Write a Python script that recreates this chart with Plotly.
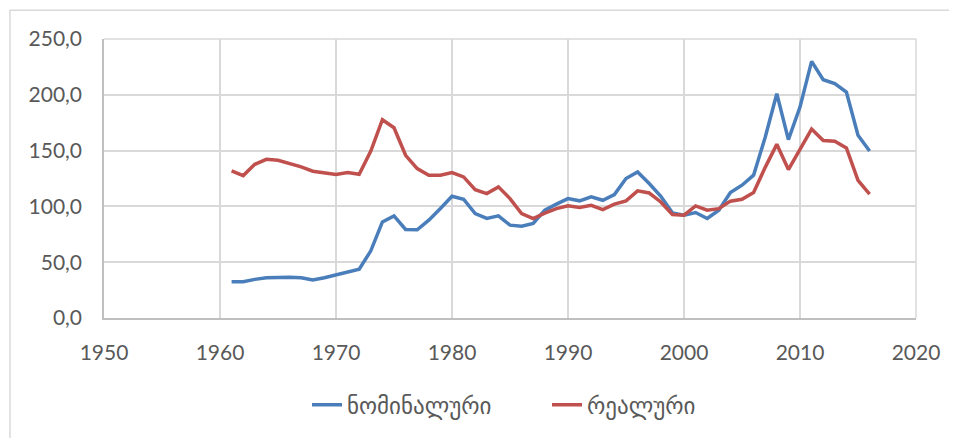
import plotly.graph_objects as go

years = list(range(1961, 2017))
nominal = [32.5, 32.5, 34.6, 36.0, 36.3, 36.6, 36.0, 34.0, 36.0, 38.5,
           40.9, 43.8, 60.2, 86.1, 91.5, 79.3, 79.0, 87.7, 98.1, 109.1,
           106.4, 93.6, 89.2, 91.5, 83.2, 82.3, 84.7, 96.6, 102.0, 107.0,
           105.0, 108.5, 105.5, 110.6, 125.0, 130.9, 120.5, 109.0, 94.2, 92.0,
           94.5, 89.2, 96.6, 112.4, 119.0, 128.0, 162.0, 201.0, 159.8, 189.0,
           230.0, 213.5, 210.0, 202.4, 163.7, 149.7]
real = [131.8, 127.6, 137.7, 142.2, 141.3, 138.4, 135.4, 131.5, 130.0, 128.5,
        130.3, 128.8, 149.6, 177.7, 170.5, 145.8, 133.9, 127.9, 127.9, 130.3,
        126.4, 115.0, 111.5, 117.5, 107.0, 93.6, 89.0, 94.0, 98.0, 100.5,
        99.0, 101.0, 97.2, 102.0, 105.0, 113.9, 112.0, 104.0, 92.8, 92.1,
        100.4, 96.6, 98.0, 104.7, 106.4, 112.4, 135.0, 155.6, 133.0, 151.0,
        169.3, 159.0, 158.3, 152.3, 123.4, 111.0]
series_names = ["ნომინალური", "რეალური"]
colors = ["#4a7ebb", "#c0504d"]

fig = go.Figure()
for name, vals, c in zip(series_names, [nominal, real], colors):
    fig.add_trace(go.Scatter(x=years, y=vals, mode="lines", name=name,
                             line=dict(color=c, width=3.5)))

font_family = "Lato, 'DejaVu Sans', sans-serif"
fig.update_layout(
    width=957, height=438,
    margin=dict(l=96, r=49, t=31, b=128),
    paper_bgcolor="white", plot_bgcolor="white",
    separators=", ",
    font=dict(family=font_family, color="#595959", size=21),
    xaxis=dict(range=[1950, 2020], dtick=10, tick0=1950,
               showgrid=True, gridcolor="#d9d9d9", gridwidth=1.5,
               showline=True, linecolor="#bfbfbf", linewidth=1.5,
               zeroline=False, ticks="", ticklen=0, ticklabelstandoff=15,
               tickfont=dict(size=21)),
    yaxis=dict(range=[0, 250], dtick=50, tickformat=".1f",
               showgrid=True, gridcolor="#d9d9d9", gridwidth=1.5,
               showline=True, linecolor="#bfbfbf", linewidth=1.5,
               zeroline=False, ticks="", ticklabelstandoff=16,
               tickfont=dict(size=21)),
    legend=dict(orientation="h", x=0.250, xanchor="left", y=-0.311, yanchor="middle",
                font=dict(size=23, family=font_family, color="#595959"),
                entrywidth=195, traceorder="normal"),
    showlegend=True,
)
fig.add_shape(type="line", xref="paper", yref="paper", x0=1, x1=1, y0=0, y1=1,
              line=dict(color="#d9d9d9", width=1.5))
fig.add_shape(type="line", xref="paper", yref="paper", x0=0, x1=1, y0=1, y1=1,
              line=dict(color="#d9d9d9", width=1.5))
fig.add_shape(type="rect", xref="paper", yref="paper",
              x0=-0.1158, x1=1.1, y0=-0.6, y1=1.1028,
              line=dict(color="#d9d9d9", width=1.5), layer="below")

fig.write_html("out.html")
